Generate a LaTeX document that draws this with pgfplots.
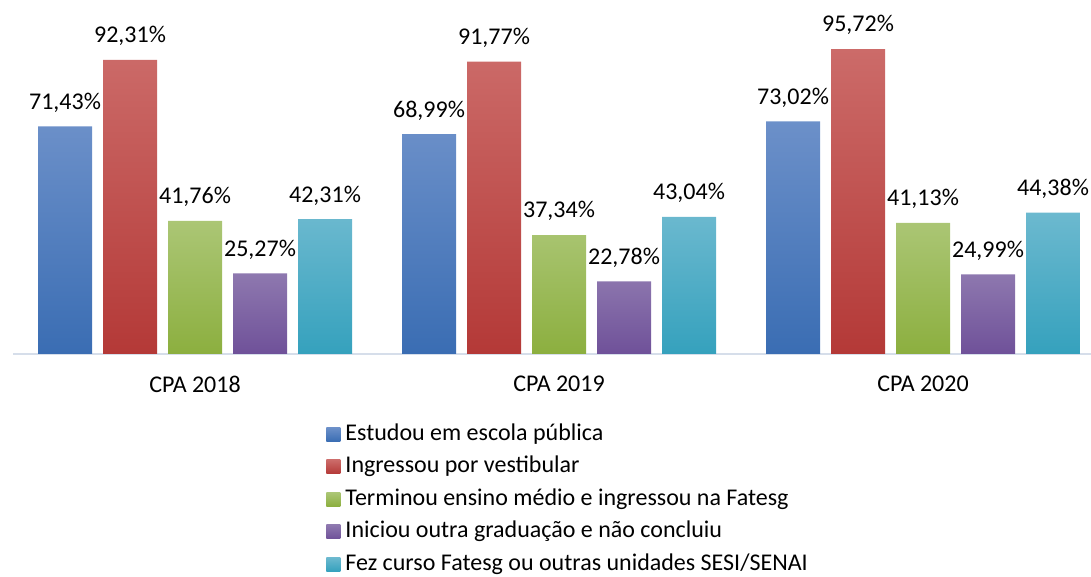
\documentclass[border=0pt]{standalone}
\usepackage{pgfplots}
\pgfplotsset{compat=1.18}
\usepackage{fontspec}
\setmainfont{Carlito}
\newcommand{\fs}{\fontsize{12}{14.4}\selectfont}
\definecolor{bluT}{HTML}{6C90C9}\definecolor{bluB}{HTML}{3A6DB3}
\definecolor{redT}{HTML}{CC6B69}\definecolor{redB}{HTML}{B43937}
\definecolor{grnT}{HTML}{ABC675}\definecolor{grnB}{HTML}{8CAF3F}
\definecolor{purT}{HTML}{8E78AF}\definecolor{purB}{HTML}{6F5199}
\definecolor{cyaT}{HTML}{6CB9CF}\definecolor{cyaB}{HTML}{35A1BD}
\definecolor{axln}{HTML}{D6DEEA}
\begin{document}
\begin{tikzpicture}[font=\fs]
\begin{axis}[
    scale only axis,
    width=539pt, height=177pt,
    at={(0,0)}, anchor=south west,
    ybar=5.5pt, bar width=27pt,
    xmin=-0.5, xmax=2.4615,
    ymin=0, ymax=111.1,
    enlargelimits=false,
    axis x line=bottom, axis y line=none,
    axis line style={-, draw=axln, line width=1pt},
    xtick={0,1,2},
    xticklabels={CPA 2018, CPA 2019, CPA 2020},
    xtick style={draw=none},
    xticklabel style={font=\fs, yshift=-5.5pt},
    nodes near coords={\pgfmathprintnumber[fixed,fixed zerofill,precision=2,use comma]{\pgfplotspointmeta}\%},
    every node near coord/.append style={font=\fs, black, yshift=3.5pt},
    /pgf/number format/assume math mode=true,
    legend style={at={(axis description cs:0.2904,-0.195)}, anchor=north west,
        draw=none, fill=none, inner sep=0pt, row sep=5.25pt, font=\fs,
        nodes={inner xsep=2.5pt, inner ysep=0pt, text height=8.5pt, text depth=2.5pt}},
    legend cell align={left},
    every axis plot post/.append style={legend image code/.code={\path[##1,draw=none] (0pt,-3.5pt) rectangle (7pt,3.5pt);}},
]
\addplot[draw=none, top color=bluT, bottom color=bluB] coordinates {(0,71.43) (1,68.99) (2,73.02)};
\addlegendentry{Estudou em escola pública}
\addplot[draw=none, top color=redT, bottom color=redB] coordinates {(0,92.31) (1,91.77) (2,95.72)};
\addlegendentry{Ingressou por vestibular}
\addplot[draw=none, top color=grnT, bottom color=grnB] coordinates {(0,41.76) (1,37.34) (2,41.13)};
\addlegendentry{Terminou ensino médio e ingressou na Fatesg}
\addplot[draw=none, top color=purT, bottom color=purB] coordinates {(0,25.27) (1,22.78) (2,24.99)};
\addlegendentry{Iniciou outra graduação e não concluiu}
\addplot[draw=none, top color=cyaT, bottom color=cyaB] coordinates {(0,42.31) (1,43.04) (2,44.38)};
\addlegendentry{Fez curso Fatesg ou outras unidades SESI/SENAI}
\end{axis}
\pgfresetboundingbox
\path (-6.5pt,-111.5pt) rectangle (539pt,177pt);
\end{tikzpicture}
\end{document}
